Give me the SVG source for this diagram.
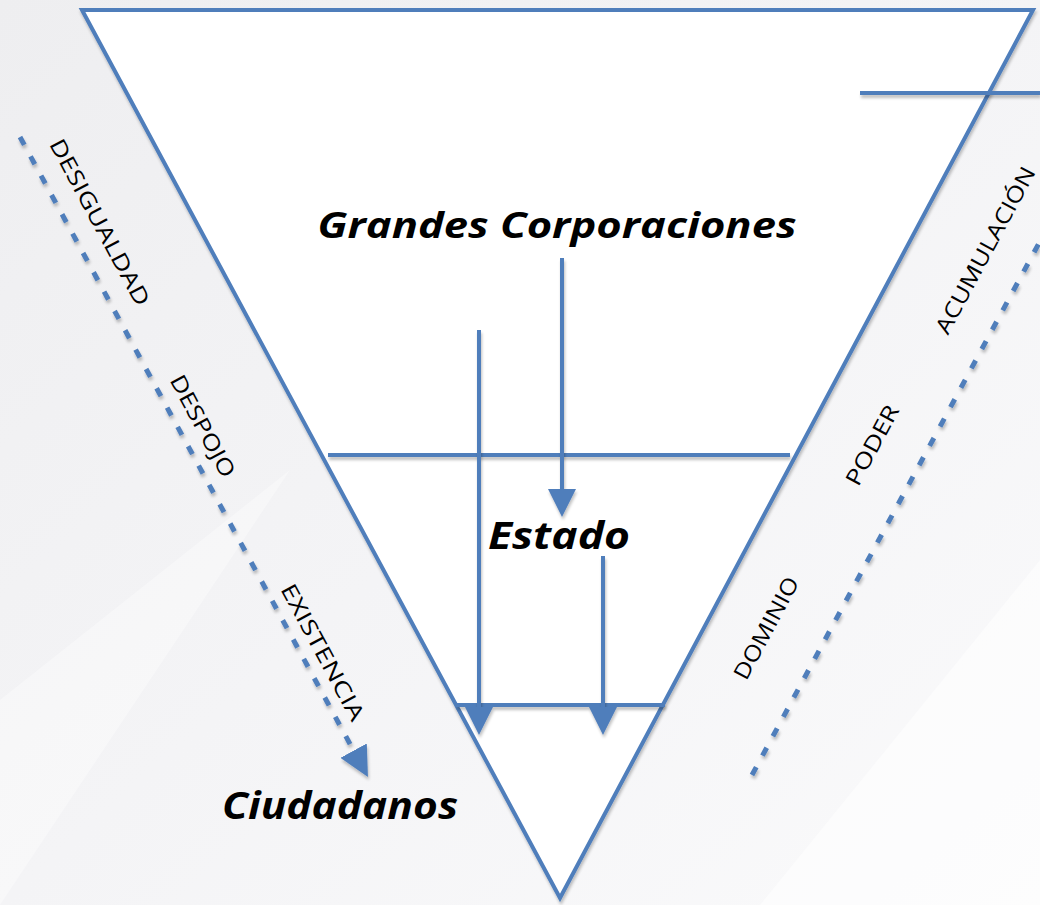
<svg xmlns="http://www.w3.org/2000/svg" width="1040" height="905" viewBox="0 0 1040 905">
  <defs>
    <linearGradient id="bg" x1="0" y1="0" x2="1" y2="1">
      <stop offset="0" stop-color="#eeeef0"/>
      <stop offset="0.5" stop-color="#f4f4f6"/>
      <stop offset="1" stop-color="#fafafb"/>
    </linearGradient>
    <filter id="sh" x="-10%" y="-10%" width="120%" height="130%">
      <feGaussianBlur in="SourceAlpha" stdDeviation="1.5"/>
      <feOffset dx="1" dy="3" result="b"/>
      <feComponentTransfer><feFuncA type="linear" slope="0.25"/></feComponentTransfer>
      <feMerge><feMergeNode/><feMergeNode in="SourceGraphic"/></feMerge>
    </filter>
    <marker id="ah" markerWidth="7" markerHeight="7" refX="2" refY="3.5" orient="auto" markerUnits="strokeWidth">
      <path d="M0,0 L7,3.5 L0,7 Z" fill="#4f7ebb"/>
    </marker>
    <marker id="ahd" markerWidth="6" markerHeight="6" refX="1" refY="3" orient="auto" markerUnits="strokeWidth">
      <path d="M0,0 L6,3 L0,6 Z" fill="#4f7ebb"/>
    </marker>
  </defs>
  <style>
    .ln { stroke: #4f7ebb; stroke-width: 4; fill: none; }
    .dash { stroke: #4f7ebb; stroke-width: 5; stroke-dasharray: 9 13; fill: none; }
    .big { font-family: "Open Sans", "DejaVu Sans", sans-serif; font-weight: bold; font-style: italic; fill: #000; }
    .lab { font-family: "Open Sans", "Liberation Sans", sans-serif; font-size: 22px; fill: #000; }
  </style>
  <rect x="0" y="0" width="1040" height="905" fill="url(#bg)"/>
  <polygon points="760,905 1040,560 1040,905" fill="#ffffff" opacity="0.5"/>
  <polygon points="0,700 290,470 0,905" fill="#ffffff" opacity="0.35"/>

  <g id="triangle" filter="url(#sh)">
    <polygon points="82,10 1033,10 560,898" fill="#ffffff" stroke="#4f7ebb" stroke-width="4" stroke-linejoin="miter"/>
  </g>

  <g id="levels" filter="url(#sh)">
    <line class="ln" x1="860" y1="93" x2="1040" y2="93"/>
    <line class="ln" x1="328" y1="455" x2="790" y2="455"/>
    <line class="ln" x1="456" y1="705" x2="665" y2="705"/>
  </g>

  <g id="connectors" filter="url(#sh)">
    <line class="ln" x1="562" y1="258" x2="562" y2="497" marker-end="url(#ah)"/>
    <line class="ln" x1="479" y1="330" x2="479" y2="715" marker-end="url(#ah)"/>
    <line class="ln" x1="603" y1="556" x2="603" y2="715" marker-end="url(#ah)"/>
    <line class="dash" x1="20" y1="137" x2="356" y2="755" marker-end="url(#ahd)"/>
    <line class="dash" x1="752" y1="775" x2="1045" y2="232"/>
  </g>

  <g id="node-corporaciones">
    <text class="big" x="557" y="238" font-size="36" text-anchor="middle" textLength="479" lengthAdjust="spacingAndGlyphs">Grandes Corporaciones</text>
  </g>
  <g id="node-estado">
    <text class="big" x="559" y="549" font-size="37" text-anchor="middle" textLength="142" lengthAdjust="spacingAndGlyphs">Estado</text>
  </g>
  <g id="node-ciudadanos">
    <text class="big" x="340" y="819" font-size="37" text-anchor="middle" textLength="236" lengthAdjust="spacingAndGlyphs">Ciudadanos</text>
  </g>

  <g id="labels-left">
    <text class="lab" transform="translate(100,222) rotate(61.7)" text-anchor="middle" dy="8" textLength="186" lengthAdjust="spacingAndGlyphs">DESIGUALDAD</text>
    <text class="lab" transform="translate(203,426) rotate(61.7)" text-anchor="middle" dy="8" textLength="113" lengthAdjust="spacingAndGlyphs">DESPOJO</text>
    <text class="lab" transform="translate(323,652) rotate(61.7)" text-anchor="middle" dy="8" textLength="152" lengthAdjust="spacingAndGlyphs">EXISTENCIA</text>
  </g>
  <g id="labels-right">
    <text class="lab" transform="translate(985,250) rotate(-61.7)" text-anchor="middle" dy="8" textLength="186" lengthAdjust="spacingAndGlyphs">ACUMULACIÓN</text>
    <text class="lab" transform="translate(872,445) rotate(-61.7)" text-anchor="middle" dy="8" textLength="88" lengthAdjust="spacingAndGlyphs">PODER</text>
    <text class="lab" transform="translate(766,628) rotate(-61.7)" text-anchor="middle" dy="8" textLength="113" lengthAdjust="spacingAndGlyphs">DOMINIO</text>
  </g>
</svg>
